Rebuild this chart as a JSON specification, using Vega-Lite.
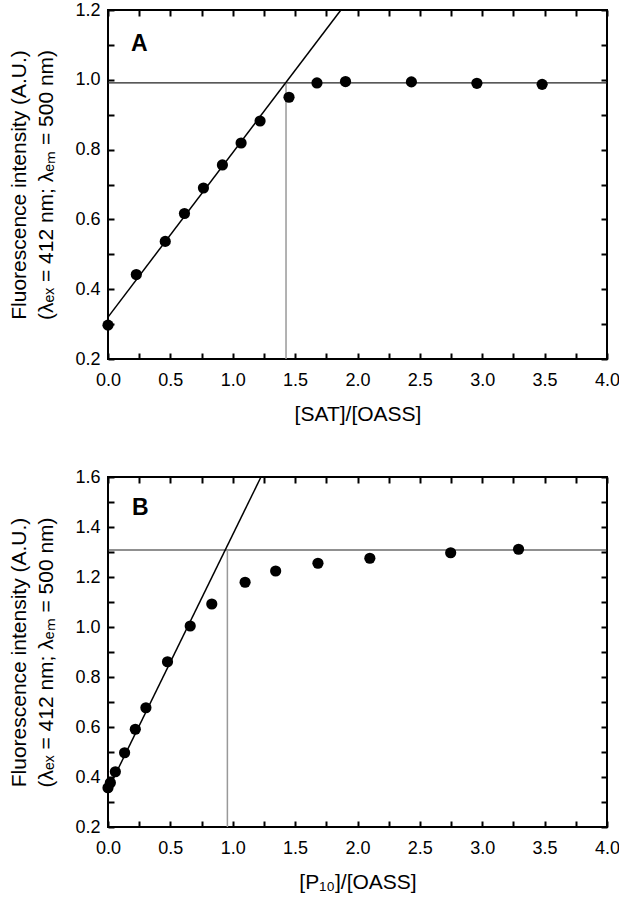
{
  "$schema": "https://vega.github.io/schema/vega-lite/v6.json",
  "padding": {"left": 7, "top": 0, "right": 12, "bottom": 0},
  "spacing": 42,
  "background": "white",
  "config": {
    "view": {"stroke": "black", "strokeWidth": 2},
    "axis": {
      "domain": false, "offset": -6, "ticks": true,
      "tickColor": "black", "tickWidth": 2, "tickSize": 6,
      "labelFont": "Liberation Sans", "labelFontSize": 18, "labelColor": "black",
      "labelOverlap": false, "labelFlush": false,
      "titleFont": "Liberation Sans", "titleFontSize": 21, "titleFontWeight": "normal", "titleColor": "black",
      "grid": false
    }
  },
  "vconcat": [
    {
      "width": 499, "height": 349,
      "layer": [
        {
          "data": {"values": [{"x": 0, "x2": 4, "y": 0.991}]},
          "mark": {"type": "rule", "color": "#222222", "strokeWidth": 1.2},
          "encoding": {
            "x": {"field": "x", "type": "quantitative", "axis": null},
            "x2": {"field": "x2"},
            "y": {"field": "y", "type": "quantitative", "axis": null}
          }
        },
        {
          "data": {"values": [{"x": 1.427, "y": 0.2, "y2": 0.991}]},
          "mark": {"type": "rule", "color": "#999999", "strokeWidth": 1.5},
          "encoding": {
            "x": {"field": "x", "type": "quantitative", "axis": null},
            "y": {"field": "y", "type": "quantitative", "axis": null},
            "y2": {"field": "y2"}
          }
        },
        {
          "data": {"values": [{"x": 0, "y": 0.32}, {"x": 1.867, "y": 1.2}]},
          "mark": {"type": "line", "color": "black", "strokeWidth": 1.5},
          "encoding": {
            "x": {"field": "x", "type": "quantitative",
              "axis": {"orient": "top", "labels": false, "title": null, "offset": -6,
                "values": [0,0.25,0.5,0.75,1,1.25,1.5,1.75,2,2.25,2.5,2.75,3,3.25,3.5,3.75,4]}},
            "y": {"field": "y", "type": "quantitative",
              "axis": {"orient": "right", "labels": false, "title": null, "offset": -6,
                "values": [0.2,0.3,0.4,0.5,0.6,0.7,0.8,0.9,1.0,1.1,1.2]}}
          }
        },
        {
          "data": {"values": [
            {"x": 0.0, "y": 0.297}, {"x": 0.227, "y": 0.442}, {"x": 0.459, "y": 0.537},
            {"x": 0.613, "y": 0.617}, {"x": 0.765, "y": 0.690}, {"x": 0.917, "y": 0.756},
            {"x": 1.067, "y": 0.819}, {"x": 1.219, "y": 0.882}, {"x": 1.451, "y": 0.950},
            {"x": 1.675, "y": 0.991}, {"x": 1.904, "y": 0.995}, {"x": 2.432, "y": 0.994},
            {"x": 2.957, "y": 0.990}, {"x": 3.480, "y": 0.987}
          ]},
          "mark": {"type": "circle", "color": "black", "opacity": 1, "size": 125},
          "encoding": {
            "x": {"field": "x", "type": "quantitative",
              "scale": {"domain": [0, 4], "nice": false, "zero": false},
              "axis": {"orient": "bottom", "title": "[SAT]/[OASS]", "labelPadding": 12, "titlePadding": 14, "offset": -6,
                "values": [0,0.25,0.5,0.75,1,1.25,1.5,1.75,2,2.25,2.5,2.75,3,3.25,3.5,3.75,4],
                "labelExpr": "datum.value % 0.5 == 0 ? format(datum.value, '.1f') : ''"}},
            "y": {"field": "y", "type": "quantitative",
              "scale": {"domain": [0.2, 1.2], "nice": false, "zero": false},
              "axis": {"orient": "left", "labelPadding": 8, "titlePadding": 18, "titleLineHeight": 27, "offset": -6,
                "title": ["Fluorescence intensity (A.U.)", "(λₑₓ = 412 nm; λₑₘ = 500 nm)"],
                "values": [0.2,0.3,0.4,0.5,0.6,0.7,0.8,0.9,1.0,1.1,1.2],
                "labelExpr": "round(datum.value*10) % 2 == 0 ? format(datum.value, '.1f') : ''"}}
          }
        },
        {
          "data": {"values": [{"label": "A", "x": 0.25, "y": 1.103}]},
          "mark": {"type": "text", "font": "Liberation Sans", "fontSize": 23, "fontWeight": "bold", "color": "black", "align": "center", "baseline": "middle"},
          "encoding": {
            "x": {"field": "x", "type": "quantitative", "axis": null},
            "y": {"field": "y", "type": "quantitative", "axis": null},
            "text": {"field": "label"}
          }
        }
      ]
    },
    {
      "width": 499, "height": 350,
      "layer": [
        {
          "data": {"values": [{"x": 0, "x2": 4, "y": 1.308}]},
          "mark": {"type": "rule", "color": "#222222", "strokeWidth": 1.2},
          "encoding": {
            "x": {"field": "x", "type": "quantitative", "axis": null},
            "x2": {"field": "x2"},
            "y": {"field": "y", "type": "quantitative", "axis": null}
          }
        },
        {
          "data": {"values": [{"x": 0.957, "y": 0.2, "y2": 1.308}]},
          "mark": {"type": "rule", "color": "#999999", "strokeWidth": 1.5},
          "encoding": {
            "x": {"field": "x", "type": "quantitative", "axis": null},
            "y": {"field": "y", "type": "quantitative", "axis": null},
            "y2": {"field": "y2"}
          }
        },
        {
          "data": {"values": [{"x": 0, "y": 0.35}, {"x": 1.226, "y": 1.6}]},
          "mark": {"type": "line", "color": "black", "strokeWidth": 1.5},
          "encoding": {
            "x": {"field": "x", "type": "quantitative",
              "axis": {"orient": "top", "labels": false, "title": null, "offset": -6,
                "values": [0,0.25,0.5,0.75,1,1.25,1.5,1.75,2,2.25,2.5,2.75,3,3.25,3.5,3.75,4]}},
            "y": {"field": "y", "type": "quantitative",
              "axis": {"orient": "right", "labels": false, "title": null, "offset": -6,
                "values": [0.2,0.3,0.4,0.5,0.6,0.7,0.8,0.9,1.0,1.1,1.2,1.3,1.4,1.5,1.6]}}
          }
        },
        {
          "data": {"values": [
            {"x": 0.0, "y": 0.357}, {"x": 0.019, "y": 0.377}, {"x": 0.059, "y": 0.421},
            {"x": 0.133, "y": 0.497}, {"x": 0.219, "y": 0.591}, {"x": 0.304, "y": 0.677},
            {"x": 0.477, "y": 0.861}, {"x": 0.659, "y": 1.004}, {"x": 0.832, "y": 1.092},
            {"x": 1.099, "y": 1.179}, {"x": 1.344, "y": 1.224}, {"x": 1.683, "y": 1.255},
            {"x": 2.099, "y": 1.275}, {"x": 2.747, "y": 1.297}, {"x": 3.291, "y": 1.311}
          ]},
          "mark": {"type": "circle", "color": "black", "opacity": 1, "size": 125},
          "encoding": {
            "x": {"field": "x", "type": "quantitative",
              "scale": {"domain": [0, 4], "nice": false, "zero": false},
              "axis": {"orient": "bottom", "title": "[P₁₀]/[OASS]", "labelPadding": 12, "titlePadding": 14, "offset": -6,
                "values": [0,0.25,0.5,0.75,1,1.25,1.5,1.75,2,2.25,2.5,2.75,3,3.25,3.5,3.75,4],
                "labelExpr": "datum.value % 0.5 == 0 ? format(datum.value, '.1f') : ''"}},
            "y": {"field": "y", "type": "quantitative",
              "scale": {"domain": [0.2, 1.6], "nice": false, "zero": false},
              "axis": {"orient": "left", "labelPadding": 8, "titlePadding": 18, "titleLineHeight": 27, "offset": -6,
                "title": ["Fluorescence intensity (A.U.)", "(λₑₓ = 412 nm; λₑₘ = 500 nm)"],
                "values": [0.2,0.3,0.4,0.5,0.6,0.7,0.8,0.9,1.0,1.1,1.2,1.3,1.4,1.5,1.6],
                "labelExpr": "round(datum.value*10) % 2 == 0 ? format(datum.value, '.1f') : ''"}}
          }
        },
        {
          "data": {"values": [{"label": "B", "x": 0.26, "y": 1.476}]},
          "mark": {"type": "text", "font": "Liberation Sans", "fontSize": 23, "fontWeight": "bold", "color": "black", "align": "center", "baseline": "middle"},
          "encoding": {
            "x": {"field": "x", "type": "quantitative", "axis": null},
            "y": {"field": "y", "type": "quantitative", "axis": null},
            "text": {"field": "label"}
          }
        }
      ]
    }
  ]
}
